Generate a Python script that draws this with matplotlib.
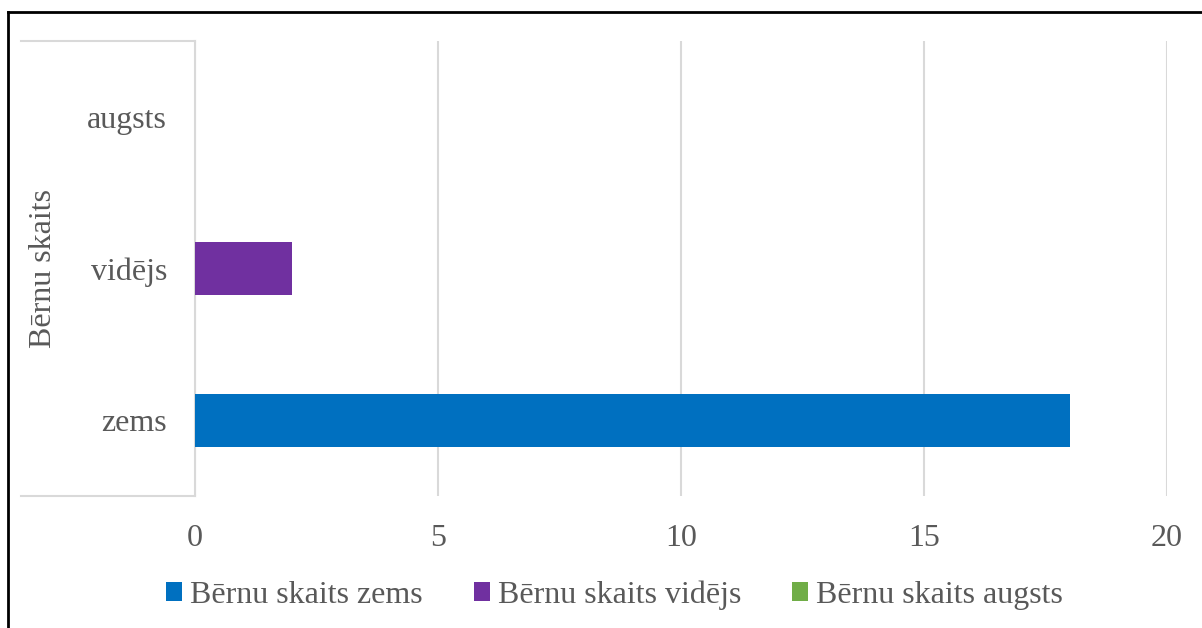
import matplotlib
matplotlib.use("Agg")
import matplotlib.pyplot as plt
from matplotlib.patches import Patch
from matplotlib.lines import Line2D
import numpy as np

plt.rcParams['font.family'] = ['Liberation Serif', 'DejaVu Serif']

categories = ["zems", "vidējs", "augsts"]
series_names = ["Bērnu skaits zems", "Bērnu skaits vidējs", "Bērnu skaits augsts"]
series_values = [
    [18, 0, 0],
    [0, 2, 0],
    [0, 0, 0],
]
colors = ["#0070C0", "#7030A0", "#70AD47"]
axis_title = "Bērnu skaits"
xticks = [0, 5, 10, 15, 20]

W, H = 1202, 628
fig = plt.figure(figsize=(W / 100, H / 100), dpi=100)
L, R, T, B = 195, 1167, 41, 496
ax = fig.add_axes([L / W, 1 - B / H, (R - L) / W, (B - T) / H])

txt = "#595959"
grid = "#D9D9D9"
fs = 23

y = np.arange(len(categories))
left = np.zeros(len(categories))
for name, vals, c in zip(series_names, series_values, colors):
    ax.barh(y, vals, left=left, height=0.35, color=c, label=name, zorder=3)
    left += np.array(vals)

ax.set_xlim(0, 20)
ax.set_ylim(-0.5, 2.5)
ax.set_xticks(xticks)
ax.set_xticklabels([str(t) for t in xticks], fontsize=fs, color=txt)
ax.set_yticks(y)
ax.set_yticklabels(categories, fontsize=fs, color=txt)
ax.tick_params(axis='x', length=0, pad=20)
ax.tick_params(axis='y', length=0, pad=20)
for s in ["top", "right", "bottom"]:
    ax.spines[s].set_visible(False)
ax.spines["left"].set_color(grid)
ax.spines["left"].set_linewidth(1.5)
ax.grid(axis='x', color=grid, linewidth=1.5, zorder=0)
ax.set_axisbelow(True)

# category axis box lines
for yy in (T, B):
    fig.add_artist(Line2D([21 / W, L / W], [1 - yy / H, 1 - yy / H], color=grid, linewidth=1.5))

fig.text(44 / W, 1 - 268.5 / H, axis_title, rotation=90, ha='center', va='center', fontsize=fs, color=txt)

# chart border (left and top visible)
fig.add_artist(Line2D([8 / W, 8 / W], [0, 1 - 12 / H], color="black", linewidth=2))
fig.add_artist(Line2D([8 / W, 1], [1 - 12 / H, 1 - 12 / H], color="black", linewidth=2))

handles = [Patch(facecolor=c, edgecolor='none') for c in colors]
leg = fig.legend(handles, series_names, loc='center', bbox_to_anchor=(614.5 / W, 1 - 595 / H),
                 ncol=3, frameon=False, fontsize=fs, handlelength=0.5, handleheight=0.5,
                 handletextpad=0.25, columnspacing=1.6, borderpad=0)
for t in leg.get_texts():
    t.set_color(txt)

fig.savefig("out.png", dpi=100)
